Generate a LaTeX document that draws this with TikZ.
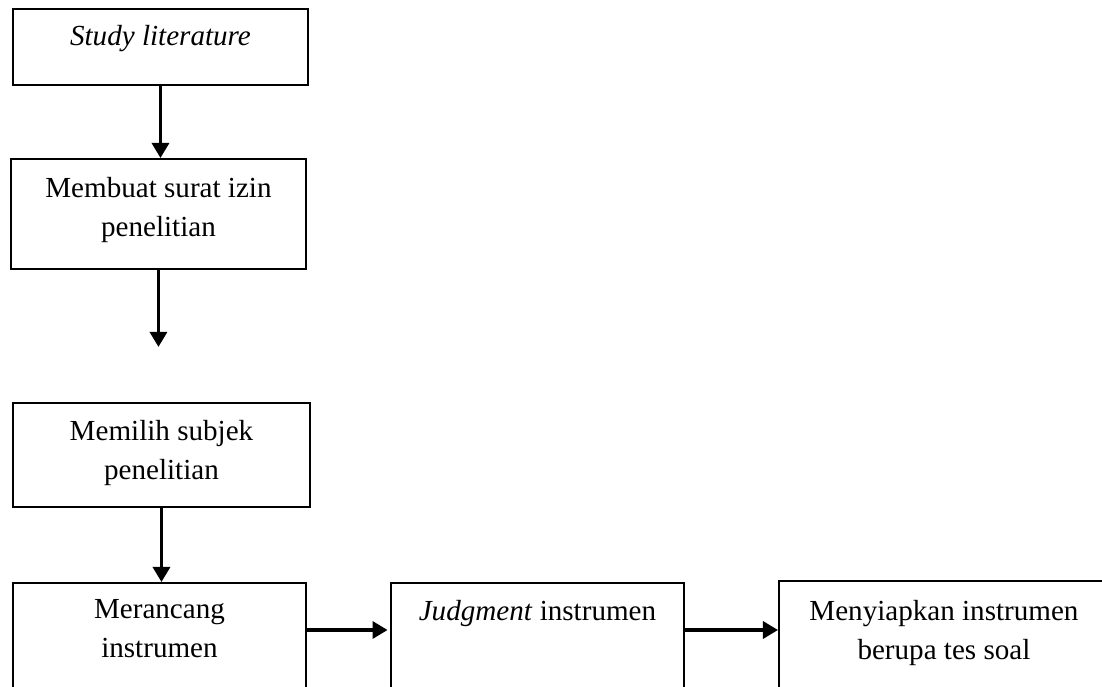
\documentclass[tikz,border=0pt]{standalone}
\usepackage{fontspec}
\setmainfont{Liberation Serif}
\usetikzlibrary{arrows.meta,calc}
\newcommand{\upx}{0.0145cm}

\begin{document}
\begin{tikzpicture}[x = 0.0145cm, y = -0.0145cm,
        kotak/.style = {draw, line width = 0.8pt, anchor = north west, inner sep = 0pt},
        teks/.style = {anchor = north, align = center, inner sep = 0pt, font = \fontsize{12}{16}\selectfont},
        panah/.style = {line width = 1.4pt, -{Triangle[length = 6.2pt, width = 7pt]}}]
        \useasboundingbox (0, 0) rectangle (1102, 687);
        \clip (0, 0) rectangle (1102, 687);

        % kotak-kotak
        \node [kotak, minimum width = 295*\upx, minimum height = 76*\upx] (lit) at (12, 8) {};
        \node [kotak, minimum width = 295*\upx, minimum height = 110*\upx] (izin) at (10, 158) {};
        \node [kotak, minimum width = 297*\upx, minimum height = 104*\upx] (subjek) at (12, 402) {};
        \node [kotak, minimum width = 293*\upx, minimum height = 118*\upx] (rancang) at (12, 582) {};
        \node [kotak, minimum width = 293*\upx, minimum height = 118*\upx] (judg) at (390, 582) {};
        \node [kotak, minimum width = 330*\upx, minimum height = 120*\upx] (siap) at (778, 580) {};

        % teks
        \node [teks] (lit-t) at ($(lit.north) + (0, 17)$) {\textit{Study literature}};
        \node [teks] (izin-t) at ($(izin.north) + (0, 19)$) {Membuat surat izin\\penelitian};
        \node [teks] (subjek-t) at ($(subjek.north) + (0, 18)$) {Memilih subjek\\penelitian};
        \node [teks] (rancang-t) at ($(rancang.north) + (0, 17)$) {Merancang\\instrumen};
        \node [teks] (judg-t) at ($(judg.north) + (0, 18)$) {\textit{Judgment} instrumen};
        \node [teks] (siap-t) at ($(siap.north) + (0, 20)$) {Menyiapkan instrumen\\berupa tes soal};

        % panah
        \coordinate (ujung) at ($(izin.south) + (0, 77)$);
        \coordinate (a1) at ($(rancang.north east) + (0, 48)$);
        \coordinate (a2) at ($(judg.north east) + (0, 48)$);
        \draw [panah] (lit.south) -- (lit.south |- izin.north);
        \draw [panah] (izin.south) -- (ujung);
        \draw [panah] (subjek.south) -- (subjek.south |- rancang.north);
        \draw [panah, shorten > = 1pt] (a1) -- (a1 -| judg.west);
        \draw [panah] (a2) -- (a2 -| siap.west);
    \end{tikzpicture}
\end{document}
